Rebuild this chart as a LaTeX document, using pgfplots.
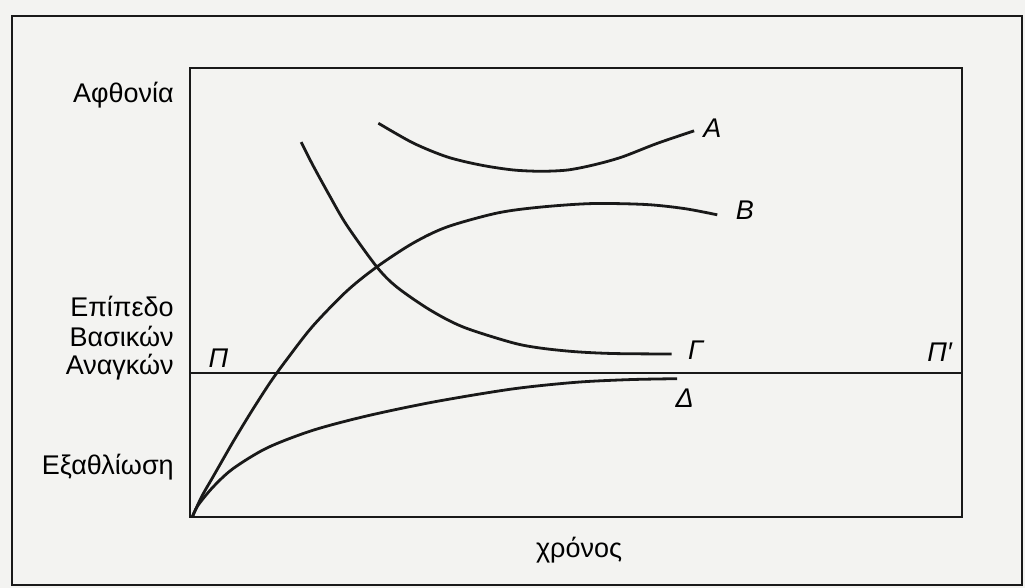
\documentclass[border=0pt]{standalone}
\usepackage{fontspec}
\setmainfont{Liberation Sans}
\usepackage{pgfplots}
\pgfplotsset{compat=1.18}
\definecolor{paper}{RGB}{243,243,241}
\definecolor{ink}{RGB}{25,25,25}
\begin{document}
\begin{tikzpicture}[x=0.5pt,y=0.5pt,font=\fontsize{13.5}{16}\selectfont,
  tag/.style={anchor=west,font=\fontsize{13.5}{16}\selectfont\itshape},
  curve/.style={ink,line width=1.4pt,smooth}]
\fill[paper] (0,0) rectangle (1025,588);
\useasboundingbox (0,0) rectangle (1025,588);
\draw[ink,line width=1pt] (12,3) rectangle (1022,572);
\begin{axis}[
  at={(95pt,35.5pt)}, anchor=south west,
  scale only axis, width=386pt, height=224.5pt,
  xmin=0, xmax=100, ymin=0, ymax=100,
  xtick=\empty, ytick=\empty,
  axis line style={ink,line width=1pt},
  clip=false,
]
% level of basic needs (P - P')
\addplot[ink,line width=1pt,no marks] coordinates {(0,32) (100,32)};
% A
\addplot[curve,no marks] coordinates {
  (24.4,87.7) (28.9,83.3) (33.3,80.2) (37.6,78.4) (41.8,77.3)
  (45.5,77.0) (49,77.3) (52.5,78.5) (56,80.2) (60.5,83.2) (65.3,86.0)};
% B
\addplot[curve,no marks] coordinates {
  (0.3,0) (1.5,4.5) (3.0,9.0) (5.6,16.8) (8.0,23.6) (10.4,30.0)
  (12.5,35.0) (15.9,42.5) (20.3,50.3) (24.2,55.7) (28.9,61.0)
  (33.3,64.6) (39.8,67.7) (45.3,69.0) (52,69.8) (59,69.6)
  (64,68.7) (68.3,67.3)};
% Gamma
\addplot[curve,no marks] coordinates {
  (14.4,83.5) (15.9,78.4) (18.1,71.5) (20.3,65.0) (24.2,55.7)
  (26.8,51.2) (31.1,46.1) (35.4,42.3) (41.8,38.8) (45.5,37.6)
  (50,36.8) (55,36.4) (62.4,36.3)};
% Delta
\addplot[curve,no marks] coordinates {
  (0.3,0) (1.0,2.5) (3.0,6.7) (5.6,10.8) (10.0,15.4) (15.9,19.3)
  (22.9,22.5) (31.5,25.6) (41.7,28.5) (50,30.0) (57,30.6)
  (63.1,30.8)};

\node[tag] at (axis cs:65.6,86.6) {A};
\node[tag] at (axis cs:69.8,68.4) {B};
\node[tag] at (axis cs:63.6,37.2) {Γ};
\node[tag] at (axis cs:62.0,26.5) {Δ};
\node[tag] at (axis cs:1.5,35.4) {Π};
\node[tag] at (axis cs:94.6,36.7) {Π′};

\node[anchor=east] at (axis cs:-1.2,94.0) {Αφθονία};
\node[anchor=east] at (axis cs:-1.2,46.8) {Επίπεδο};
\node[anchor=east] at (axis cs:-1.2,40.1) {Βασικών};
\node[anchor=east] at (axis cs:-1.2,33.4) {Αναγκών};
\node[anchor=east] at (axis cs:-1.2,11.1) {Εξαθλίωση};
\node at (axis cs:50.4,-7.3) {χρόνος};
\end{axis}
\end{tikzpicture}
\end{document}
